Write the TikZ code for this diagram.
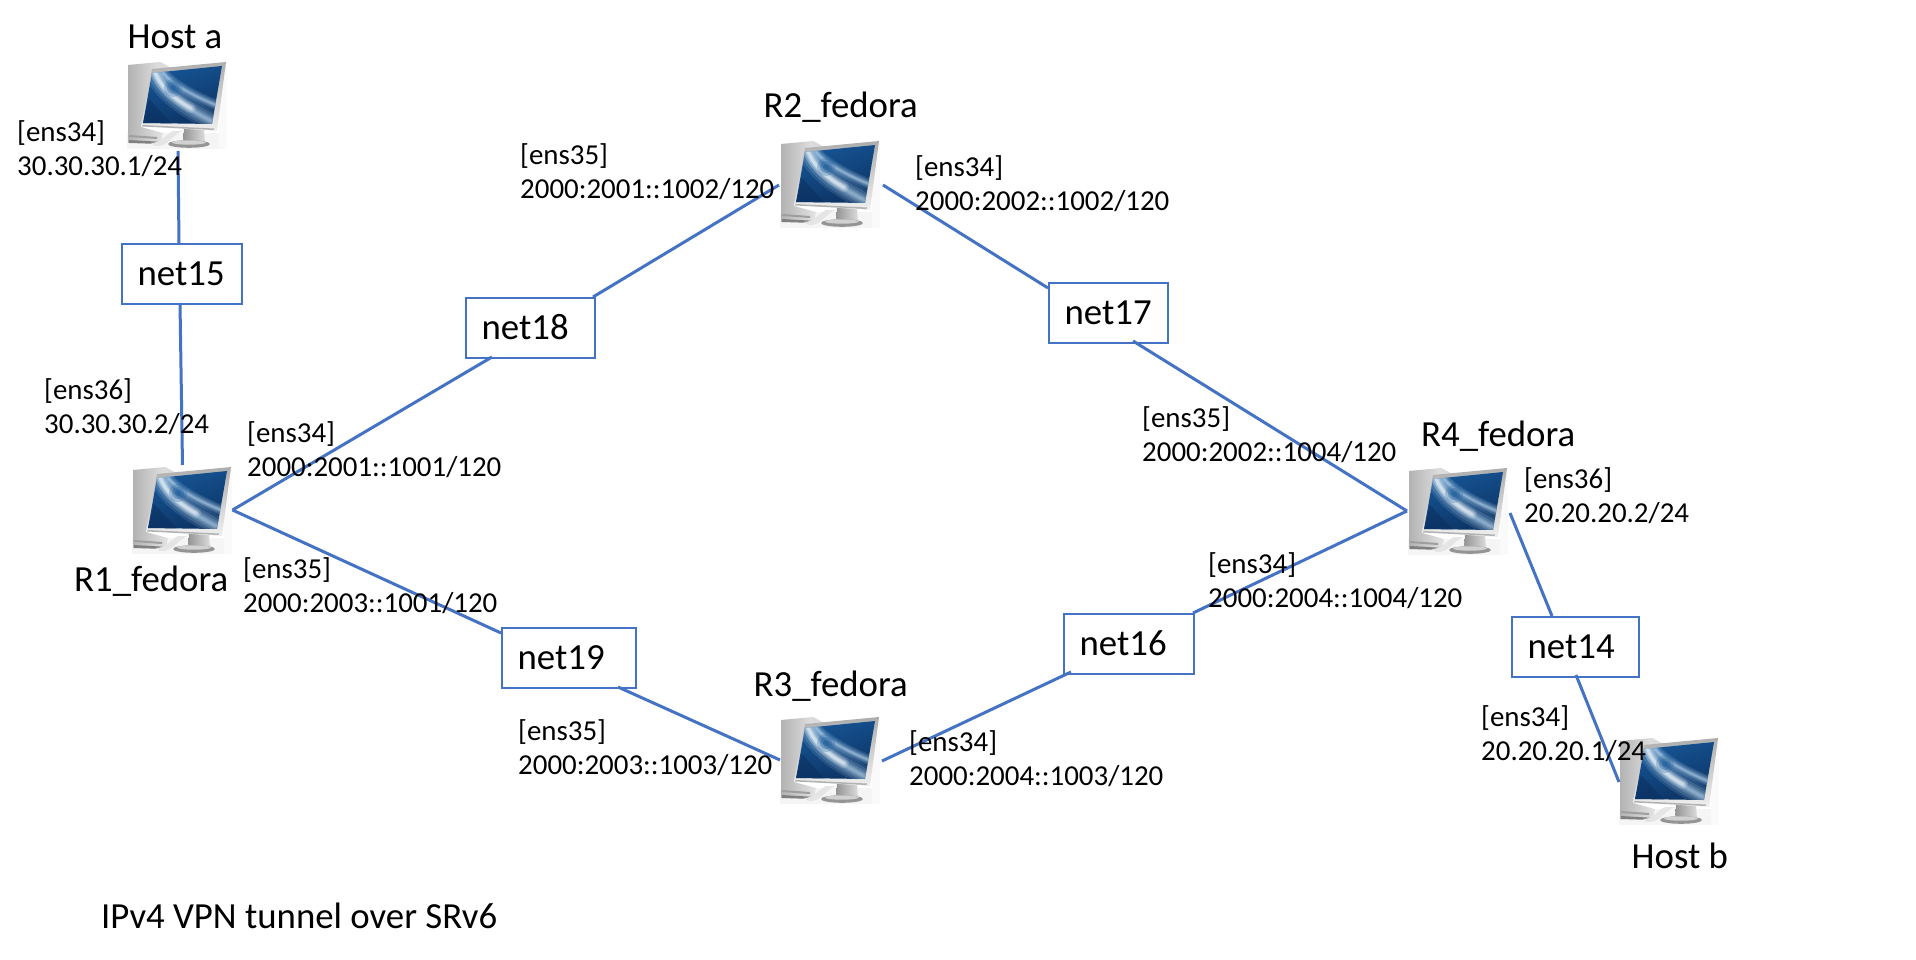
\documentclass[tikz,border=0pt]{standalone}
\usepackage{fontspec}
\setmainfont{Carlito}
\usetikzlibrary{calc}
\definecolor{linkblue}{HTML}{4472C4}
\definecolor{navy}{HTML}{0B2F5E}
\definecolor{midblue}{HTML}{17599A}
\definecolor{paleblue}{HTML}{BFDDF3}
\tikzset{
  x=1pt,y=-1pt,
  link/.style={draw=linkblue,line width=3pt},
  netbox/.style={draw=linkblue,line width=2.2pt,fill=white,anchor=north west,inner xsep=15.5pt,inner ysep=0pt,
    text width=#1,align=left,minimum height=60pt,text height=23pt,text depth=0pt,
    font=\fontsize{36.8}{40}\selectfont},
  hostbox/.style={anchor=north west,inner sep=0pt,minimum width=100pt,minimum height=88pt},
  big/.style={anchor=base west,inner sep=0pt,font=\fontsize{36.8}{40}\selectfont},
  addr/.style={anchor=base west,inner sep=0pt,align=left,font=\fontsize{28.9}{34}\selectfont},
  computer/.pic={
    % soft backdrop
    \fill[black!4] (0,72) rectangle (100,88);
    \fill[black!2] (92,2) rectangle (100,88);
    % tower
    \shade[left color=black!30,right color=black!5,shading angle=90]
      (1,4) -- (33,1) -- (46,8) -- (30,14) -- (14,66) -- (36,72) -- (34,82) -- (1,82) -- cycle;
    \fill[black!14] (33,1) -- (46,8) -- (36,9) -- (30,3) -- cycle;
    % tower foot
    \fill[black!38] (2,74) -- (30,76) -- (30,78) -- (2,76) -- cycle;
    \fill[black!50] (2,79) -- (36,81) -- (34,83) -- (2,82) -- cycle;
    \fill[black!10] (24,82) .. controls (34,82) and (38,74) .. (46,70) -- (56,70) .. controls (44,74) and (42,86) .. (28,85) -- cycle;
    % stand and base
    \shade[left color=black!42,right color=black!14,shading angle=90]
      (57,68) -- (77,68) -- (78,82) -- (56,82) -- cycle;
    \fill[black!42] (62,83) ellipse [x radius=21pt,y radius=3.8pt];
    \fill[black!18] (62,81.5) ellipse [x radius=17pt,y radius=2.2pt];
    % monitor frame
    \shade[top color=black!32,bottom color=black!6]
      (25,8) -- (99,1) -- (90,70) -- (14,65) -- cycle;
    \fill[black!30] (15.5,64) -- (87,67.5) -- (86.5,69) -- (15,65.5) -- cycle;
    % screen
    \begin{scope}
      \clip (25,12) -- (95,5) -- (85,63) -- (16,62) -- cycle;
      \shade[left color=midblue,right color=navy,shading angle=20] (10,0) rectangle (100,70);
      \fill[navy,opacity=.55] (15,66) -- (22,38) -- (48,66) -- cycle;
      \foreach \w/\o in {20/.13,15/.16,10/.2,6/.25,3/.3}{
        \draw[paleblue,line width=\w pt,opacity=\o,line cap=round]
          (28,12) .. controls (36,32) and (58,46) .. (84,60);
        \draw[paleblue,line width=.55*\w pt,opacity=\o,line cap=round]
          (36,12) .. controls (46,24) and (68,36) .. (94,46);
      }
      \foreach \w/\o in {10/.18,6/.25,3/.35}{
        \draw[white,line width=\w pt,opacity=\o,line cap=round]
          (28,11) .. controls (33,24) and (44,36) .. (64,47);
      }
      \foreach \w/\o in {9/.25,6/.3,3/.4}{
        \fill[midblue,opacity=\o] (46,27) circle [radius=\w pt];
      }
    \end{scope}
  }
}
\begin{document}
\begin{tikzpicture}
\useasboundingbox (0,0) rectangle (1916,960);
\fill[white] (0,0) rectangle (1916,960);

% hosts
\node[hostbox] (ha) at (127,61) {};
\node[hostbox] (r1) at (132,466) {};
\node[hostbox] (r2) at (780,140) {};
\node[hostbox] (r3) at (780,716) {};
\node[hostbox] (r4) at (1408,467) {};
\node[hostbox] (hb) at (1619,737) {};
\pic at (ha.north west) {computer};
\pic at (r1.north west) {computer};
\pic at (r2.north west) {computer};
\pic at (r3.north west) {computer};
\pic at (r4.north west) {computer};
\pic at (hb.north west) {computer};

% networks
\node[netbox=89pt] (n15) at (121,243) {net15};
\node[netbox=98pt] (n18) at (465,297) {net18};
\node[netbox=103pt] (n19) at (501,627) {net19};
\node[netbox=88pt] (n17) at (1048,282) {net17};
\node[netbox=99pt] (n16) at (1063,613) {net16};
\node[netbox=96pt] (n14) at (1511,616) {net14};

% connectors
\draw[link] ([shift={(51,90)}]ha.north west) -- ([shift={(58,0)}]n15.north west);
\draw[link] ([shift={(59,60)}]n15.north west) -- ([shift={(50.5,-1)}]r1.north west);
\draw[link] ([shift={(100.5,44)}]r1.north west) -- ([shift={(27,60)}]n18.north west);
\draw[link] ([shift={(100.5,44)}]r1.north west) -- ([shift={(0,6)}]n19.north west);
\draw[link] ([shift={(128,0)}]n18.north west) -- ([shift={(-1,45)}]r2.north west);
\draw[link] ([shift={(103,45)}]r2.north west) -- ([shift={(0,6)}]n17.north west);
\draw[link] ([shift={(85,59)}]n17.north west) -- ([shift={(-1,44)}]r4.north west);
\draw[link] ([shift={(-1,44)}]r4.north west) -- ([shift={(130,0)}]n16.north west);
\draw[link] ([shift={(117,60)}]n19.north west) -- ([shift={(0,44)}]r3.north west);
\draw[link] ([shift={(102,45)}]r3.north west) -- ([shift={(8,59)}]n16.north west);
\draw[link] ([shift={(102,46)}]r4.north west) -- ([shift={(41,0)}]n14.north west);
\draw[link] ([shift={(65,59)}]n14.north west) -- ([shift={(0,45)}]hb.north west);

% names
\node[big] (tha) at (127.5,48.5) {Host a};
\node[big] (thb) at (1631.5,868.5) {Host b};
\node[big] (tr1) at (74,591) {R1\_fedora};
\node[big] (tr2) at (763.5,117.5) {R2\_fedora};
\node[big] (tr3) at (753.5,696.5) {R3\_fedora};
\node[big] (tr4) at (1421,446.5) {R4\_fedora};
\node[big] (title) at (101,928.5) {IPv4 VPN tunnel over SRv6};

% addresses
\node[addr] (a1) at (17,175.5) {[ens34]\\30.30.30.1/24};
\node[addr] (a2) at (44,433.5) {[ens36]\\30.30.30.2/24};
\node[addr] (a3) at (247,476.5) {[ens34]\\2000:2001::1001/120};
\node[addr] (a4) at (243,612) {[ens35]\\2000:2003::1001/120};
\node[addr] (a5) at (520,198.5) {[ens35]\\2000:2001::1002/120};
\node[addr] (a6) at (915,210.5) {[ens34]\\2000:2002::1002/120};
\node[addr] (a7) at (518,774.5) {[ens35]\\2000:2003::1003/120};
\node[addr] (a8) at (909,785.5) {[ens34]\\2000:2004::1003/120};
\node[addr] (a9) at (1142,461.5) {[ens35]\\2000:2002::1004/120};
\node[addr] (a10) at (1208,607.5) {[ens34]\\2000:2004::1004/120};
\node[addr] (a11) at (1524,522.5) {[ens36]\\20.20.20.2/24};
\node[addr] (a12) at (1481,760.5) {[ens34]\\20.20.20.1/24};
\end{tikzpicture}
\end{document}
